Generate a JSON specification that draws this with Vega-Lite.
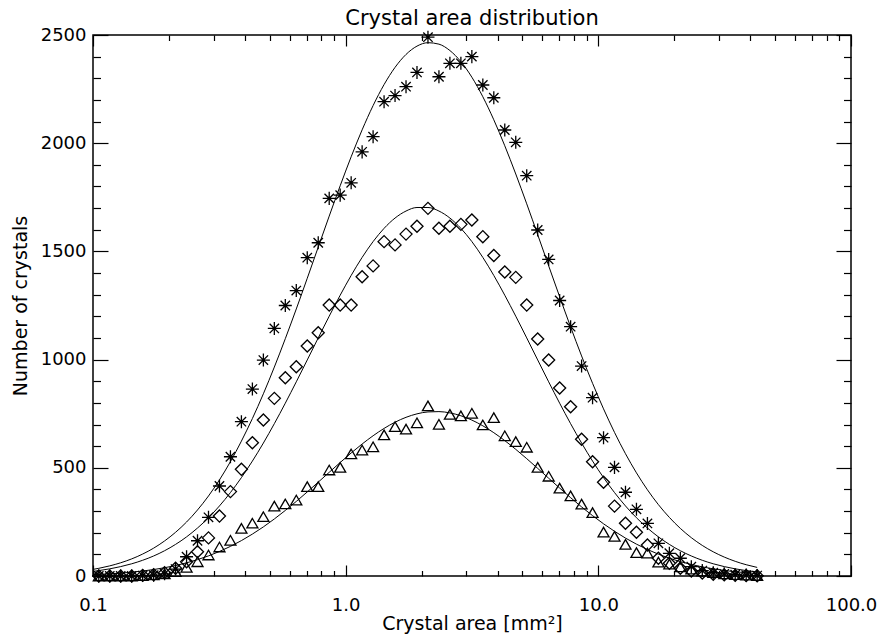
{
"$schema": "https://vega.github.io/schema/vega-lite/v6.json",
"width": 758, "height": 541,
"autosize": {"type": "none"},
"padding": {"left": 93, "top": 35, "right": 29, "bottom": 59},
"background": "white",
"title": {"text": "Crystal area distribution", "font": "DejaVu Sans", "fontSize": 21, "fontWeight": "normal", "color": "black", "anchor": "middle", "offset": -3},
"config": {
  "view": {"stroke": "black", "strokeWidth": 1.5},
  "axis": {"domain": false, "grid": false, "tickColor": "black", "tickWidth": 1.2, "labelColor": "black", "titleColor": "black", "labelFont": "DejaVu Sans", "titleFont": "DejaVu Sans", "labelFontSize": 18, "titleFontSize": 19, "titleFontWeight": "normal"}
},
"datasets": {
"pts": [
{"x":0.1054,"v":0,"s":"a"},{"x":0.1165,"v":0,"s":"a"},{"x":0.1287,"v":0,"s":"a"},{"x":0.1423,"v":0,"s":"a"},{"x":0.1572,"v":2,"s":"a"},{"x":0.1738,"v":4,"s":"a"},{"x":0.1920,"v":10,"s":"a"},{"x":0.2122,"v":32,"s":"a"},{"x":0.2346,"v":89,"s":"a"},{"x":0.2592,"v":163,"s":"a"},{"x":0.2865,"v":271,"s":"a"},{"x":0.3166,"v":416,"s":"a"},{"x":0.3499,"v":551,"s":"a"},{"x":0.3867,"v":713,"s":"a"},{"x":0.4274,"v":864,"s":"a"},{"x":0.4724,"v":998,"s":"a"},{"x":0.5220,"v":1144,"s":"a"},{"x":0.5769,"v":1250,"s":"a"},{"x":0.6376,"v":1319,"s":"a"},{"x":0.7047,"v":1471,"s":"a"},{"x":0.7788,"v":1540,"s":"a"},{"x":0.8607,"v":1745,"s":"a"},{"x":0.9512,"v":1760,"s":"a"},{"x":1.0513,"v":1817,"s":"a"},{"x":1.1618,"v":1960,"s":"a"},{"x":1.2840,"v":2030,"s":"a"},{"x":1.4191,"v":2192,"s":"a"},{"x":1.5683,"v":2220,"s":"a"},{"x":1.7333,"v":2261,"s":"a"},{"x":1.9155,"v":2327,"s":"a"},{"x":2.1170,"v":2490,"s":"a"},{"x":2.3396,"v":2307,"s":"a"},{"x":2.5857,"v":2369,"s":"a"},{"x":2.8577,"v":2369,"s":"a"},{"x":3.1582,"v":2400,"s":"a"},{"x":3.4903,"v":2269,"s":"a"},{"x":3.8574,"v":2210,"s":"a"},{"x":4.2631,"v":2061,"s":"a"},{"x":4.7115,"v":2004,"s":"a"},{"x":5.2070,"v":1850,"s":"a"},{"x":5.7546,"v":1599,"s":"a"},{"x":6.3598,"v":1463,"s":"a"},{"x":7.0287,"v":1273,"s":"a"},{"x":7.7679,"v":1152,"s":"a"},{"x":8.5849,"v":970,"s":"a"},{"x":9.4877,"v":824,"s":"a"},{"x":10.486,"v":639,"s":"a"},{"x":11.588,"v":502,"s":"a"},{"x":12.807,"v":387,"s":"a"},{"x":14.154,"v":308,"s":"a"},{"x":15.643,"v":243,"s":"a"},{"x":17.288,"v":151,"s":"a"},{"x":19.106,"v":105,"s":"a"},{"x":21.115,"v":82,"s":"a"},{"x":23.336,"v":43,"s":"a"},{"x":25.790,"v":25,"s":"a"},{"x":28.502,"v":15,"s":"a"},{"x":31.500,"v":10,"s":"a"},{"x":34.813,"v":6,"s":"a"},{"x":38.475,"v":4,"s":"a"},{"x":42.521,"v":2,"s":"a"},
{"x":0.1054,"v":0,"s":"d"},{"x":0.1165,"v":0,"s":"d"},{"x":0.1287,"v":0,"s":"d"},{"x":0.1423,"v":0,"s":"d"},{"x":0.1572,"v":3,"s":"d"},{"x":0.1738,"v":6,"s":"d"},{"x":0.1920,"v":15,"s":"d"},{"x":0.2122,"v":36,"s":"d"},{"x":0.2346,"v":66,"s":"d"},{"x":0.2592,"v":112,"s":"d"},{"x":0.2865,"v":176,"s":"d"},{"x":0.3166,"v":277,"s":"d"},{"x":0.3499,"v":390,"s":"d"},{"x":0.3867,"v":493,"s":"d"},{"x":0.4274,"v":616,"s":"d"},{"x":0.4724,"v":721,"s":"d"},{"x":0.5220,"v":821,"s":"d"},{"x":0.5769,"v":916,"s":"d"},{"x":0.6376,"v":967,"s":"d"},{"x":0.7047,"v":1063,"s":"d"},{"x":0.7788,"v":1124,"s":"d"},{"x":0.8607,"v":1252,"s":"d"},{"x":0.9512,"v":1252,"s":"d"},{"x":1.0513,"v":1252,"s":"d"},{"x":1.1618,"v":1383,"s":"d"},{"x":1.2840,"v":1433,"s":"d"},{"x":1.4191,"v":1545,"s":"d"},{"x":1.5683,"v":1530,"s":"d"},{"x":1.7333,"v":1580,"s":"d"},{"x":1.9155,"v":1616,"s":"d"},{"x":2.1170,"v":1699,"s":"d"},{"x":2.3396,"v":1607,"s":"d"},{"x":2.5857,"v":1616,"s":"d"},{"x":2.8577,"v":1625,"s":"d"},{"x":3.1582,"v":1645,"s":"d"},{"x":3.4903,"v":1568,"s":"d"},{"x":3.8574,"v":1481,"s":"d"},{"x":4.2631,"v":1405,"s":"d"},{"x":4.7115,"v":1380,"s":"d"},{"x":5.2070,"v":1252,"s":"d"},{"x":5.7546,"v":1095,"s":"d"},{"x":6.3598,"v":998,"s":"d"},{"x":7.0287,"v":869,"s":"d"},{"x":7.7679,"v":782,"s":"d"},{"x":8.5849,"v":632,"s":"d"},{"x":9.4877,"v":528,"s":"d"},{"x":10.486,"v":433,"s":"d"},{"x":11.588,"v":323,"s":"d"},{"x":12.807,"v":244,"s":"d"},{"x":14.154,"v":202,"s":"d"},{"x":15.643,"v":143,"s":"d"},{"x":17.288,"v":82,"s":"d"},{"x":19.106,"v":59,"s":"d"},{"x":21.115,"v":36,"s":"d"},{"x":23.336,"v":23,"s":"d"},{"x":25.790,"v":14,"s":"d"},{"x":28.502,"v":8,"s":"d"},{"x":31.500,"v":5,"s":"d"},{"x":34.813,"v":3,"s":"d"},{"x":38.475,"v":2,"s":"d"},{"x":42.521,"v":1,"s":"d"},
{"x":0.1054,"v":0,"s":"t"},{"x":0.1165,"v":0,"s":"t"},{"x":0.1287,"v":0,"s":"t"},{"x":0.1423,"v":0,"s":"t"},{"x":0.1572,"v":2,"s":"t"},{"x":0.1738,"v":5,"s":"t"},{"x":0.1920,"v":10,"s":"t"},{"x":0.2122,"v":20,"s":"t"},{"x":0.2346,"v":40,"s":"t"},{"x":0.2592,"v":66,"s":"t"},{"x":0.2865,"v":97,"s":"t"},{"x":0.3166,"v":134,"s":"t"},{"x":0.3499,"v":165,"s":"t"},{"x":0.3867,"v":220,"s":"t"},{"x":0.4274,"v":244,"s":"t"},{"x":0.4724,"v":274,"s":"t"},{"x":0.5220,"v":323,"s":"t"},{"x":0.5769,"v":333,"s":"t"},{"x":0.6376,"v":351,"s":"t"},{"x":0.7047,"v":413,"s":"t"},{"x":0.7788,"v":413,"s":"t"},{"x":0.8607,"v":490,"s":"t"},{"x":0.9512,"v":502,"s":"t"},{"x":1.0513,"v":564,"s":"t"},{"x":1.1618,"v":582,"s":"t"},{"x":1.2840,"v":597,"s":"t"},{"x":1.4191,"v":652,"s":"t"},{"x":1.5683,"v":690,"s":"t"},{"x":1.7333,"v":679,"s":"t"},{"x":1.9155,"v":708,"s":"t"},{"x":2.1170,"v":786,"s":"t"},{"x":2.3396,"v":701,"s":"t"},{"x":2.5857,"v":747,"s":"t"},{"x":2.8577,"v":740,"s":"t"},{"x":3.1582,"v":752,"s":"t"},{"x":3.4903,"v":698,"s":"t"},{"x":3.8574,"v":732,"s":"t"},{"x":4.2631,"v":648,"s":"t"},{"x":4.7115,"v":621,"s":"t"},{"x":5.2070,"v":595,"s":"t"},{"x":5.7546,"v":502,"s":"t"},{"x":6.3598,"v":461,"s":"t"},{"x":7.0287,"v":406,"s":"t"},{"x":7.7679,"v":370,"s":"t"},{"x":8.5849,"v":332,"s":"t"},{"x":9.4877,"v":293,"s":"t"},{"x":10.486,"v":203,"s":"t"},{"x":11.588,"v":183,"s":"t"},{"x":12.807,"v":146,"s":"t"},{"x":14.154,"v":108,"s":"t"},{"x":15.643,"v":106,"s":"t"},{"x":17.288,"v":64,"s":"t"},{"x":19.106,"v":55,"s":"t"},{"x":21.115,"v":42,"s":"t"},{"x":23.336,"v":32,"s":"t"},{"x":25.790,"v":23,"s":"t"},{"x":28.502,"v":16,"s":"t"},{"x":31.500,"v":10,"s":"t"},{"x":34.813,"v":6,"s":"t"},{"x":38.475,"v":4,"s":"t"},{"x":42.521,"v":2,"s":"t"}
],
"fit": [
{"x":0.1,"v":30.6,"s":"a"},{"x":0.1054,"v":35.5,"s":"a"},{"x":0.1165,"v":46.8,"s":"a"},{"x":0.1287,"v":61.1,"s":"a"},{"x":0.1423,"v":79.1,"s":"a"},{"x":0.1572,"v":101.4,"s":"a"},{"x":0.1738,"v":128.7,"s":"a"},{"x":0.1920,"v":162.0,"s":"a"},{"x":0.2122,"v":201.9,"s":"a"},{"x":0.2346,"v":249.4,"s":"a"},{"x":0.2592,"v":305.1,"s":"a"},{"x":0.2865,"v":369.8,"s":"a"},{"x":0.3166,"v":444.1,"s":"a"},{"x":0.3499,"v":528.5,"s":"a"},{"x":0.3867,"v":623.3,"s":"a"},{"x":0.4274,"v":727.7,"s":"a"},{"x":0.4724,"v":842.1,"s":"a"},{"x":0.5220,"v":965.4,"s":"a"},{"x":0.5769,"v":1096.6,"s":"a"},{"x":0.6376,"v":1234.0,"s":"a"},{"x":0.7047,"v":1375.8,"s":"a"},{"x":0.7788,"v":1519.7,"s":"a"},{"x":0.8607,"v":1663.1,"s":"a"},{"x":0.9512,"v":1803.3,"s":"a"},{"x":1.0513,"v":1937.1,"s":"a"},{"x":1.1618,"v":2061.6,"s":"a"},{"x":1.2840,"v":2173.8,"s":"a"},{"x":1.4191,"v":2270.9,"s":"a"},{"x":1.5683,"v":2350.4,"s":"a"},{"x":1.7333,"v":2410.2,"s":"a"},{"x":1.9155,"v":2448.6,"s":"a"},{"x":2.1170,"v":2464.5,"s":"a"},{"x":2.3396,"v":2457.7,"s":"a"},{"x":2.5857,"v":2428.1,"s":"a"},{"x":2.8577,"v":2376.8,"s":"a"},{"x":3.1582,"v":2305.0,"s":"a"},{"x":3.4903,"v":2214.6,"s":"a"},{"x":3.8574,"v":2108.1,"s":"a"},{"x":4.2631,"v":1988.1,"s":"a"},{"x":4.7115,"v":1857.7,"s":"a"},{"x":5.2070,"v":1719.8,"s":"a"},{"x":5.7546,"v":1577.3,"s":"a"},{"x":6.3598,"v":1433.2,"s":"a"},{"x":7.0287,"v":1290.4,"s":"a"},{"x":7.7679,"v":1150.9,"s":"a"},{"x":8.5849,"v":1016.9,"s":"a"},{"x":9.4877,"v":890.4,"s":"a"},{"x":10.486,"v":772.3,"s":"a"},{"x":11.588,"v":663.7,"s":"a"},{"x":12.807,"v":565.0,"s":"a"},{"x":14.154,"v":476.6,"s":"a"},{"x":15.643,"v":398.3,"s":"a"},{"x":17.288,"v":329.8,"s":"a"},{"x":19.106,"v":270.7,"s":"a"},{"x":21.115,"v":219.9,"s":"a"},{"x":23.336,"v":177.1,"s":"a"},{"x":25.790,"v":141.3,"s":"a"},{"x":28.502,"v":111.7,"s":"a"},{"x":31.500,"v":87.5,"s":"a"},{"x":34.813,"v":67.8,"s":"a"},{"x":38.475,"v":52.1,"s":"a"},{"x":42.521,"v":39.7,"s":"a"},
{"x":0.1,"v":21.4,"s":"d"},{"x":0.1054,"v":24.9,"s":"d"},{"x":0.1165,"v":33.1,"s":"d"},{"x":0.1287,"v":43.4,"s":"d"},{"x":0.1423,"v":56.4,"s":"d"},{"x":0.1572,"v":72.6,"s":"d"},{"x":0.1738,"v":92.5,"s":"d"},{"x":0.1920,"v":116.8,"s":"d"},{"x":0.2122,"v":146.0,"s":"d"},{"x":0.2346,"v":180.8,"s":"d"},{"x":0.2592,"v":221.7,"s":"d"},{"x":0.2865,"v":269.2,"s":"d"},{"x":0.3166,"v":323.7,"s":"d"},{"x":0.3499,"v":385.6,"s":"d"},{"x":0.3867,"v":454.7,"s":"d"},{"x":0.4274,"v":531.1,"s":"d"},{"x":0.4724,"v":614.4,"s":"d"},{"x":0.5220,"v":703.9,"s":"d"},{"x":0.5769,"v":798.6,"s":"d"},{"x":0.6376,"v":897.3,"s":"d"},{"x":0.7047,"v":998.4,"s":"d"},{"x":0.7788,"v":1100.2,"s":"d"},{"x":0.8607,"v":1200.6,"s":"d"},{"x":0.9512,"v":1297.5,"s":"d"},{"x":1.0513,"v":1388.8,"s":"d"},{"x":1.1618,"v":1472.2,"s":"d"},{"x":1.2840,"v":1545.4,"s":"d"},{"x":1.4191,"v":1606.5,"s":"d"},{"x":1.5683,"v":1654.1,"s":"d"},{"x":1.7333,"v":1686.5,"s":"d"},{"x":1.9155,"v":1702.9,"s":"d"},{"x":2.1170,"v":1702.9,"s":"d"},{"x":2.3396,"v":1686.5,"s":"d"},{"x":2.5857,"v":1654.1,"s":"d"},{"x":2.8577,"v":1606.5,"s":"d"},{"x":3.1582,"v":1545.4,"s":"d"},{"x":3.4903,"v":1472.2,"s":"d"},{"x":3.8574,"v":1388.8,"s":"d"},{"x":4.2631,"v":1297.5,"s":"d"},{"x":4.7115,"v":1200.6,"s":"d"},{"x":5.2070,"v":1100.2,"s":"d"},{"x":5.7546,"v":998.4,"s":"d"},{"x":6.3598,"v":897.3,"s":"d"},{"x":7.0287,"v":798.6,"s":"d"},{"x":7.7679,"v":703.9,"s":"d"},{"x":8.5849,"v":614.4,"s":"d"},{"x":9.4877,"v":531.1,"s":"d"},{"x":10.486,"v":454.7,"s":"d"},{"x":11.588,"v":385.6,"s":"d"},{"x":12.807,"v":323.7,"s":"d"},{"x":14.154,"v":269.2,"s":"d"},{"x":15.643,"v":221.7,"s":"d"},{"x":17.288,"v":180.8,"s":"d"},{"x":19.106,"v":146.0,"s":"d"},{"x":21.115,"v":116.8,"s":"d"},{"x":23.336,"v":92.5,"s":"d"},{"x":25.790,"v":72.6,"s":"d"},{"x":28.502,"v":56.4,"s":"d"},{"x":31.500,"v":43.4,"s":"d"},{"x":34.813,"v":33.1,"s":"d"},{"x":38.475,"v":24.9,"s":"d"},{"x":42.521,"v":18.6,"s":"d"},
{"x":0.1,"v":6.4,"s":"t"},{"x":0.1054,"v":7.5,"s":"t"},{"x":0.1165,"v":10.1,"s":"t"},{"x":0.1287,"v":13.4,"s":"t"},{"x":0.1423,"v":17.7,"s":"t"},{"x":0.1572,"v":23.1,"s":"t"},{"x":0.1738,"v":29.8,"s":"t"},{"x":0.1920,"v":38.2,"s":"t"},{"x":0.2122,"v":48.4,"s":"t"},{"x":0.2346,"v":60.8,"s":"t"},{"x":0.2592,"v":75.6,"s":"t"},{"x":0.2865,"v":93.0,"s":"t"},{"x":0.3166,"v":113.4,"s":"t"},{"x":0.3499,"v":136.9,"s":"t"},{"x":0.3867,"v":163.6,"s":"t"},{"x":0.4274,"v":193.7,"s":"t"},{"x":0.4724,"v":227.0,"s":"t"},{"x":0.5220,"v":263.5,"s":"t"},{"x":0.5769,"v":302.9,"s":"t"},{"x":0.6376,"v":344.7,"s":"t"},{"x":0.7047,"v":388.5,"s":"t"},{"x":0.7788,"v":433.6,"s":"t"},{"x":0.8607,"v":479.2,"s":"t"},{"x":0.9512,"v":524.4,"s":"t"},{"x":1.0513,"v":568.4,"s":"t"},{"x":1.1618,"v":609.9,"s":"t"},{"x":1.2840,"v":648.1,"s":"t"},{"x":1.4191,"v":682.0,"s":"t"},{"x":1.5683,"v":710.7,"s":"t"},{"x":1.7333,"v":733.3,"s":"t"},{"x":1.9155,"v":749.3,"s":"t"},{"x":2.1170,"v":758.2,"s":"t"},{"x":2.3396,"v":759.7,"s":"t"},{"x":2.5857,"v":753.7,"s":"t"},{"x":2.8577,"v":740.5,"s":"t"},{"x":3.1582,"v":720.5,"s":"t"},{"x":3.4903,"v":694.1,"s":"t"},{"x":3.8574,"v":662.2,"s":"t"},{"x":4.2631,"v":625.6,"s":"t"},{"x":4.7115,"v":585.3,"s":"t"},{"x":5.2070,"v":542.2,"s":"t"},{"x":5.7546,"v":497.4,"s":"t"},{"x":6.3598,"v":451.8,"s":"t"},{"x":7.0287,"v":406.4,"s":"t"},{"x":7.7679,"v":362.0,"s":"t"},{"x":8.5849,"v":319.3,"s":"t"},{"x":9.4877,"v":278.9,"s":"t"},{"x":10.486,"v":241.2,"s":"t"},{"x":11.588,"v":206.6,"s":"t"},{"x":12.807,"v":175.2,"s":"t"},{"x":14.154,"v":147.2,"s":"t"},{"x":15.643,"v":122.4,"s":"t"},{"x":17.288,"v":100.8,"s":"t"},{"x":19.106,"v":82.2,"s":"t"},{"x":21.115,"v":66.4,"s":"t"},{"x":23.336,"v":53.1,"s":"t"},{"x":25.790,"v":42.0,"s":"t"},{"x":28.502,"v":33.0,"s":"t"},{"x":31.500,"v":25.6,"s":"t"},{"x":34.813,"v":19.7,"s":"t"},{"x":38.475,"v":15.0,"s":"t"},{"x":42.521,"v":11.3,"s":"t"}
]
},
"layer": [
{
  "data": {"name": "fit"},
  "mark": {"type": "line", "color": "black", "strokeWidth": 1, "interpolate": "monotone"},
  "encoding": {
    "x": {"field": "x", "type": "quantitative", "scale": {"type": "log", "domain": [0.1, 100], "nice": false},
          "axis": {"orient": "top", "values": [0.1, 1, 10, 100], "tickSize": -11, "labels": false, "title": null}},
    "y": {"field": "v", "type": "quantitative", "scale": {"domain": [0, 2500], "nice": false},
          "axis": {"orient": "right", "values": [0, 500, 1000, 1500, 2000, 2500], "tickSize": -15, "labels": false, "title": null}},
    "detail": {"field": "s"}
  }
},
{
  "data": {"name": "fit"},
  "mark": {"type": "line", "opacity": 0},
  "encoding": {
    "x": {"field": "x", "type": "quantitative", "scale": {"type": "log", "domain": [0.1, 100], "nice": false},
          "axis": {"orient": "bottom", "values": [0.2,0.3,0.4,0.5,0.6,0.7,0.8,0.9,2,3,4,5,6,7,8,9,20,30,40,50,60,70,80,90], "tickSize": -5.5, "labels": false, "title": null}},
    "y": {"field": "v", "type": "quantitative", "scale": {"domain": [0, 2500], "nice": false},
          "axis": {"orient": "left", "values": [100,200,300,400,600,700,800,900,1100,1200,1300,1400,1600,1700,1800,1900,2100,2200,2300,2400], "tickSize": -7.5, "labels": false, "title": null}},
    "detail": {"field": "s"}
  }
},
{
  "data": {"name": "fit"},
  "mark": {"type": "line", "opacity": 0},
  "encoding": {
    "x": {"field": "x", "type": "quantitative", "scale": {"type": "log", "domain": [0.1, 100], "nice": false},
          "axis": {"orient": "top", "values": [0.2,0.3,0.4,0.5,0.6,0.7,0.8,0.9,2,3,4,5,6,7,8,9,20,30,40,50,60,70,80,90], "tickSize": -5.5, "labels": false, "title": null}},
    "y": {"field": "v", "type": "quantitative", "scale": {"domain": [0, 2500], "nice": false},
          "axis": {"orient": "right", "values": [100,200,300,400,600,700,800,900,1100,1200,1300,1400,1600,1700,1800,1900,2100,2200,2300,2400], "tickSize": -7.5, "labels": false, "title": null}},
    "detail": {"field": "s"}
  }
},
{
  "data": {"name": "pts"},
  "mark": {"type": "point", "filled": false, "stroke": "black", "strokeWidth": 1.3, "opacity": 1},
  "encoding": {
    "x": {"field": "x", "type": "quantitative", "scale": {"type": "log", "domain": [0.1, 100], "nice": false},
          "axis": {"orient": "bottom", "values": [0.1, 1, 10, 100], "format": ".1f", "tickSize": -11, "labelPadding": 31, "labelFlush": false, "title": "Crystal area [mm²]", "titlePadding": 0}},
    "y": {"field": "v", "type": "quantitative", "scale": {"domain": [0, 2500], "nice": false},
          "axis": {"orient": "left", "values": [0, 500, 1000, 1500, 2000, 2500], "format": "d", "tickSize": -15, "labelPadding": 22, "labelFlush": false, "title": "Number of crystals", "titlePadding": 10}},
    "shape": {"field": "s", "type": "nominal", "scale": {"domain": ["a", "d", "t"], "range": ["M-1,0L1,0M0,-1L0,1M-0.72,-0.72L0.72,0.72M-0.72,0.72L0.72,-0.72", "diamond", "triangle-up"]}, "legend": null},
    "size": {"field": "s", "type": "ordinal", "scale": {"domain": ["a", "d", "t"], "range": [170, 121, 150]}, "legend": null}
  }
}
],
"resolve": {"axis": {"x": "independent", "y": "independent"}}
}
